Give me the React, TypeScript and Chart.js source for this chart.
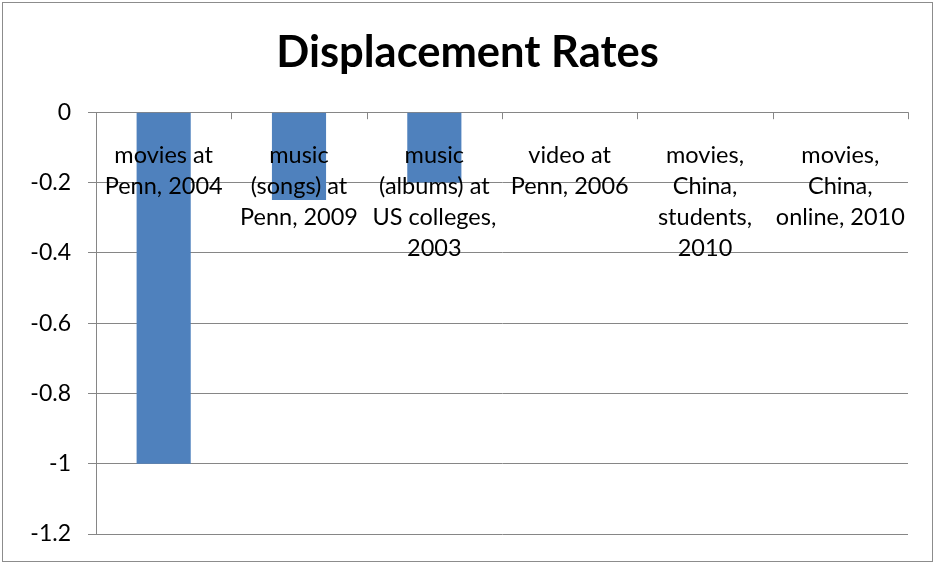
import React, { useEffect, useRef } from "react";
import { Chart, registerables } from "chart.js";

Chart.register(...registerables);

const categories: string[][] = [
  ["movies at", "Penn, 2004"],
  ["music", "(songs) at", "Penn, 2009"],
  ["music", "(albums) at", "US colleges,", "2003"],
  ["video at", "Penn, 2006"],
  ["movies,", "China,", "students,", "2010"],
  ["movies,", "China,", "online, 2010"],
];
const displacementValues: number[] = [-1, -0.25, -0.2, 0, 0, 0];
const yMin = -1.2;
const yMax = 0;
const yStep = 0.2;

const FONT = "Lato, 'Noto Sans', sans-serif";
const GRID = "#868686";

const categoryLabelsPlugin = {
  id: "categoryLabels",
  afterDatasetsDraw(chart: any) {
    const { ctx, chartArea, scales } = chart;
    const x = scales.x;
    const n = categories.length;
    const half = (x.getPixelForValue(1) - x.getPixelForValue(0)) / 2;
    ctx.save();
    ctx.strokeStyle = GRID;
    ctx.lineWidth = 1;
    for (let i = 0; i < n; i++) {
      const bx = Math.round(x.getPixelForValue(i) + half) + 0.5;
      ctx.beginPath();
      ctx.moveTo(bx, chartArea.top);
      ctx.lineTo(bx, chartArea.top + 7);
      ctx.stroke();
    }
    ctx.fillStyle = "#000";
    ctx.font = `23.5px ${FONT}`;
    ctx.textAlign = "center";
    ctx.textBaseline = "middle";
    categories.forEach((lines, i) => {
      const cx = x.getPixelForValue(i);
      lines.forEach((line, k) => {
        ctx.fillText(line, cx, chartArea.top + 43 + k * 31);
      });
    });
    ctx.restore();
  },
};

export default function App() {
  const ref = useRef<HTMLCanvasElement>(null);
  useEffect(() => {
    document.body.style.margin = "0";
    const chart = new Chart(ref.current!, {
      type: "bar",
      data: {
        labels: categories.map((c) => c.join(" ")),
        datasets: [
          {
            data: displacementValues,
            backgroundColor: "#4F81BD",
            categoryPercentage: 1,
            barPercentage: 0.4,
          },
        ],
      },
      options: {
        animation: false,
        responsive: false,
        layout: { padding: { left: 0, right: 0, top: 0, bottom: 29 } },
        plugins: {
          legend: { display: false },
          tooltip: { enabled: false },
          title: {
            display: true,
            text: "Displacement Rates",
            color: "#000",
            font: { family: FONT, size: 43.5, weight: "bold" },
            padding: { top: 27, bottom: 33 },
          },
        },
        scales: {
          x: {
            display: false,
            grid: { display: false },
          },
          y: {
            min: yMin,
            max: yMax,
            ticks: {
              stepSize: yStep,
              color: "#000",
              font: { family: FONT, size: 23 },
              padding: 17,
              callback: (v: any) => String(Math.round(Number(v) * 10) / 10),
            },
            grid: { color: GRID, tickLength: 8, lineWidth: 1 },
            border: { display: true, color: GRID },
            afterFit: (s: any) => {
              s.width = 96;
              s.paddingTop = 0;
              s.paddingBottom = 0;
            },
          },
          yRight: {
            position: "right",
            display: true,
            ticks: { display: false },
            grid: { display: false, drawTicks: false },
            border: { display: false },
            afterFit: (s: any) => {
              s.width = 27;
              s.paddingTop = 0;
              s.paddingBottom = 0;
            },
          },
        },
      },
      plugins: [categoryLabelsPlugin],
    });
    return () => chart.destroy();
  }, []);
  return (
    <div style={{ position: "relative", width: 935, height: 563 }}>
      <canvas ref={ref} width={935} height={563} style={{ position: "absolute", left: 0, top: 0 }} />
      <div
        style={{
          position: "absolute",
          left: 2,
          top: 2,
          width: 929,
          height: 558,
          border: "1px solid #8c8c8c",
          pointerEvents: "none",
        }}
      />
    </div>
  );
}
